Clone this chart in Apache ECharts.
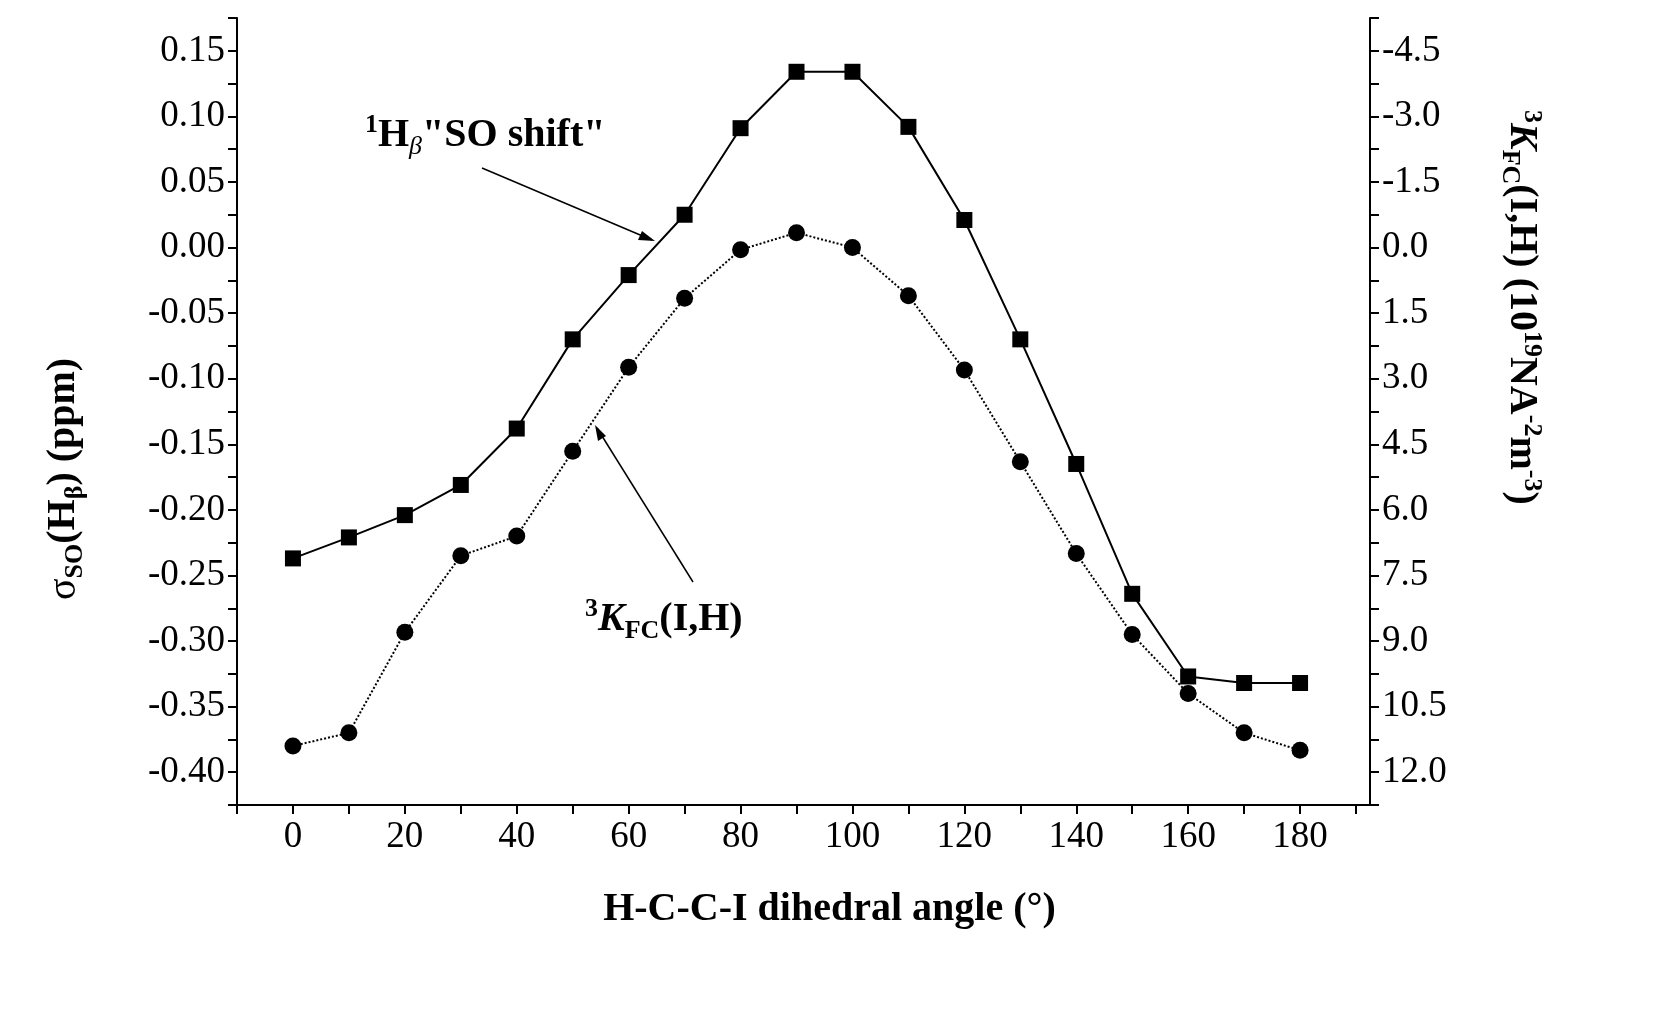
<!DOCTYPE html>
<html><head><meta charset="utf-8">
<script src="https://cdn.jsdelivr.net/npm/echarts@6/dist/echarts.min.js"></script>
<style>html,body{margin:0;padding:0;background:#fff}#c{width:1659px;height:1010px}</style>
</head><body><div id="c"></div>
<script>
const angles = [0,10,20,30,40,50,60,70,80,90,100,110,120,130,140,150,160,170,180];
const soShift = [-0.237,-0.221,-0.204,-0.181,-0.138,-0.070,-0.021,0.025,0.091,0.134,0.134,0.092,0.021,-0.070,-0.165,-0.264,-0.327,-0.332,-0.332];
const kFC = [11.4,11.1,8.8,7.05,6.6,4.66,2.74,1.16,0.05,-0.34,0.0,1.1,2.8,4.9,7.0,8.85,10.2,11.1,11.5];
const F = '"Liberation Serif", "DejaVu Serif", serif';
const chart = echarts.init(document.getElementById('c'));
const axLine = {show:true,onZero:false,lineStyle:{color:'#000',width:2}};
const tick = {show:true,inside:false,length:9,lineStyle:{color:'#000',width:2}};
const near = (v,s)=>Math.abs(v/s-Math.round(v/s))<1e-6;
chart.setOption({
  animation:false,
  grid:{left:237,right:289,top:18,bottom:205},
  xAxis:{type:'value',min:-10,max:192.5,interval:10,axisLine:axLine,axisTick:tick,splitLine:{show:false},
    axisLabel:{fontFamily:F,fontSize:37,color:'#000',margin:14,showMaxLabel:false,
      formatter:v=>(near(v,20)&&v>=0&&v<=180)?String(Math.round(v)):''}},
  yAxis:[
    {type:'value',min:-0.425,max:0.175,interval:0.025,axisLine:axLine,axisTick:tick,splitLine:{show:false},
      axisLabel:{fontFamily:F,fontSize:37,color:'#000',margin:12,
        formatter:v=>(near(v,0.05)&&v>=-0.4001&&v<=0.1501)?v.toFixed(2):''}},
    {type:'value',inverse:true,min:-5.25,max:12.75,interval:0.75,position:'right',axisLine:axLine,axisTick:tick,splitLine:{show:false},
      axisLabel:{fontFamily:F,fontSize:37,color:'#000',margin:12,
        formatter:v=>(near(v,1.5)&&v>=-4.51&&v<=12.01)?v.toFixed(1):''}}
  ],
  series:[
    {type:'line',yAxisIndex:0,data:angles.map((a,i)=>[a,soShift[i]]),symbol:'rect',symbolSize:16,
      lineStyle:{color:'#000',width:2},itemStyle:{color:'#000'}},
    {type:'line',yAxisIndex:1,data:angles.map((a,i)=>[a,kFC[i]]),symbol:'circle',symbolSize:17,
      lineStyle:{color:'#000',width:2,type:'dotted'},itemStyle:{color:'#000'}}
  ],
  graphic:[
    {type:'text',left:'center',top:890,style:{text:'H-C-C-I dihedral angle (°)',font:'bold 40px '+F,fill:'#000'}},
    {type:'text',x:40,y:600,rotation:Math.PI/2,style:{text:'{i|σ}{s|SO}{b|(H}{s|β}{b|) (ppm)}',fill:'#000',
      rich:{i:{font:'40px '+F,lineHeight:48},b:{font:'bold 40px '+F,lineHeight:48},s:{font:'bold 26px '+F,verticalAlign:'bottom',lineHeight:48}}}},
    {type:'text',x:1545,y:110,rotation:-Math.PI/2,style:{text:'{p|3}{i|K}{s|FC}{b|(I,H) (10}{p|19}{b|NA}{p|-2}{b|m}{p|-3}{b|)}',fill:'#000',
      rich:{i:{font:'italic bold 40px '+F,lineHeight:48},b:{font:'bold 40px '+F,lineHeight:48},s:{font:'bold 26px '+F,verticalAlign:'bottom',lineHeight:48},p:{font:'bold 26px '+F,verticalAlign:'top',lineHeight:48}}}},
    {type:'text',x:365,y:112,style:{text:'{p|1}{b|H}{s|β}{b|"SO shift"}',fill:'#000',
      rich:{b:{font:'bold 40px '+F,lineHeight:48},s:{font:'italic 26px '+F,verticalAlign:'bottom',lineHeight:48},p:{font:'bold 26px '+F,verticalAlign:'top',lineHeight:48}}}},
    {type:'text',x:585,y:596,style:{text:'{p|3}{i|K}{s|FC}{b|(I,H)}',fill:'#000',
      rich:{i:{font:'italic bold 40px '+F,lineHeight:48},b:{font:'bold 40px '+F,lineHeight:48},s:{font:'bold 26px '+F,verticalAlign:'bottom',lineHeight:48},p:{font:'bold 26px '+F,verticalAlign:'top',lineHeight:48}}}},
    {type:'line',shape:{x1:482,y1:168,x2:652,y2:240},style:{stroke:'#000',lineWidth:1.5}},
    {type:'polygon',shape:{points:[[655,241],[638,240],[642,231]]},style:{fill:'#000'}},
    {type:'line',shape:{x1:693,y1:582,x2:597,y2:428},style:{stroke:'#000',lineWidth:1.5}},
    {type:'polygon',shape:{points:[[595,425],[598,441],[606,436]]},style:{fill:'#000'}}
  ]
});
</script></body></html>
